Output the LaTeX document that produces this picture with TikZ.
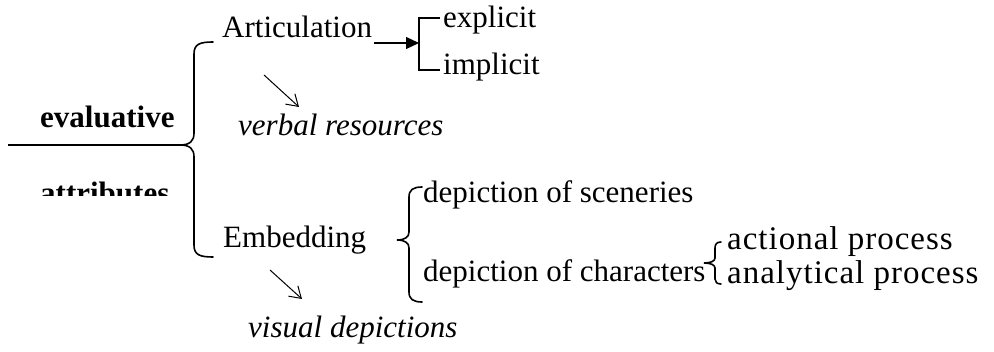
\documentclass[tikz,border=0pt]{standalone}
\usepackage{fontspec}
\setmainfont{Liberation Serif}
\usetikzlibrary{arrows.meta, positioning}

\begin{document}
\begin{tikzpicture}[
    x=1pt, y=-1pt,
    term/.style={inner sep=0pt, anchor=base west, font=\fontsize{31}{36}\selectfont},
    headterm/.style={term, font=\fontsize{31}{36}\selectfont\bfseries},
    resource/.style={term, font=\fontsize{31}{36}\selectfont\itshape},
    process/.style={term, font=\fontsize{33}{38}\selectfont\addfontfeature{LetterSpace=3}},
    bracestroke/.style={line width=1.6pt, line cap=round},
    pointer/.style={line width=1pt, -{Straight Barb[length=11pt, width=14pt]}},
    feed/.style={line width=1.2pt, -{Triangle[length=13pt, width=12pt]}}
]
\useasboundingbox (0,0) rectangle (994,352);

% Head of the scheme
\node[headterm] (eval) at (40,128) {evaluative};
\begin{scope}
  \clip (0,150) rectangle (190,196);
  \node[headterm] (attr) at (40,204) {attributes};
\end{scope}
\coordinate (tipA) at (180,145);
\coordinate (lineA) at (8,145);
\draw[line width=1.4pt] (lineA) -- (tipA);

% Main brace
\draw[bracestroke] (213,42) .. controls (200,42) and (194,44) .. (194,54)
  -- (194,133) .. controls (194,141) and (190,145) .. (tipA)
  .. controls (190,145) and (194,149) .. (194,157)
  -- (194,245) .. controls (194,255) and (200,257) .. (213,257);

% First branch
\node[term] (art) at (222,38) {Articulation};
\node[term] (expl) at (443,28) {explicit};
\node[term] (impl) at (443,75) {implicit};
\coordinate (joinB) at (419,43);
\draw[line width=1.6pt] (440,18) -- (419,18) -- (419,70) -- (440,70);
\draw[feed] ([xshift=2pt, yshift=-5pt]art.base east) -- (joinB);

\node[resource] (verb) at (238,136) {verbal resources};
\coordinate (vfrom) at (264,75);
\coordinate (vto) at (299,107);
\draw[pointer] (vfrom) -- (vto);

% Second branch
\node[term] (emb) at (223,248) {Embedding};
\node[resource] (vis) at (248,338) {visual depictions};
\coordinate (efrom) at (270,270);
\coordinate (eto) at (302,299);
\draw[pointer] (efrom) -- (eto);

\node[term] (scen) at (423,203) {depiction of sceneries};
\node[term] (chars) at (423,282) {depiction of characters};
\draw[bracestroke] (422,187) .. controls (413,187) and (409,190) .. (409,197)
  -- (409,232) .. controls (409,237) and (405,240) .. (397,240)
  .. controls (405,240) and (409,243) .. (409,248)
  -- (409,292) .. controls (409,299) and (413,302) .. (422,302);

% Characters
\node[process] (act) at (727,250) {actional process};
\node[process] (ana) at (727,284) {analytical process};
\draw[bracestroke] (721,242) .. controls (717,242) and (715,244) .. (715,248)
  -- (715,258) .. controls (715,261) and (711,263) .. (704,263)
  .. controls (711,263) and (715,265) .. (715,268)
  -- (715,279) .. controls (715,282) and (717,284) .. (721,284);

\end{tikzpicture}
\end{document}
